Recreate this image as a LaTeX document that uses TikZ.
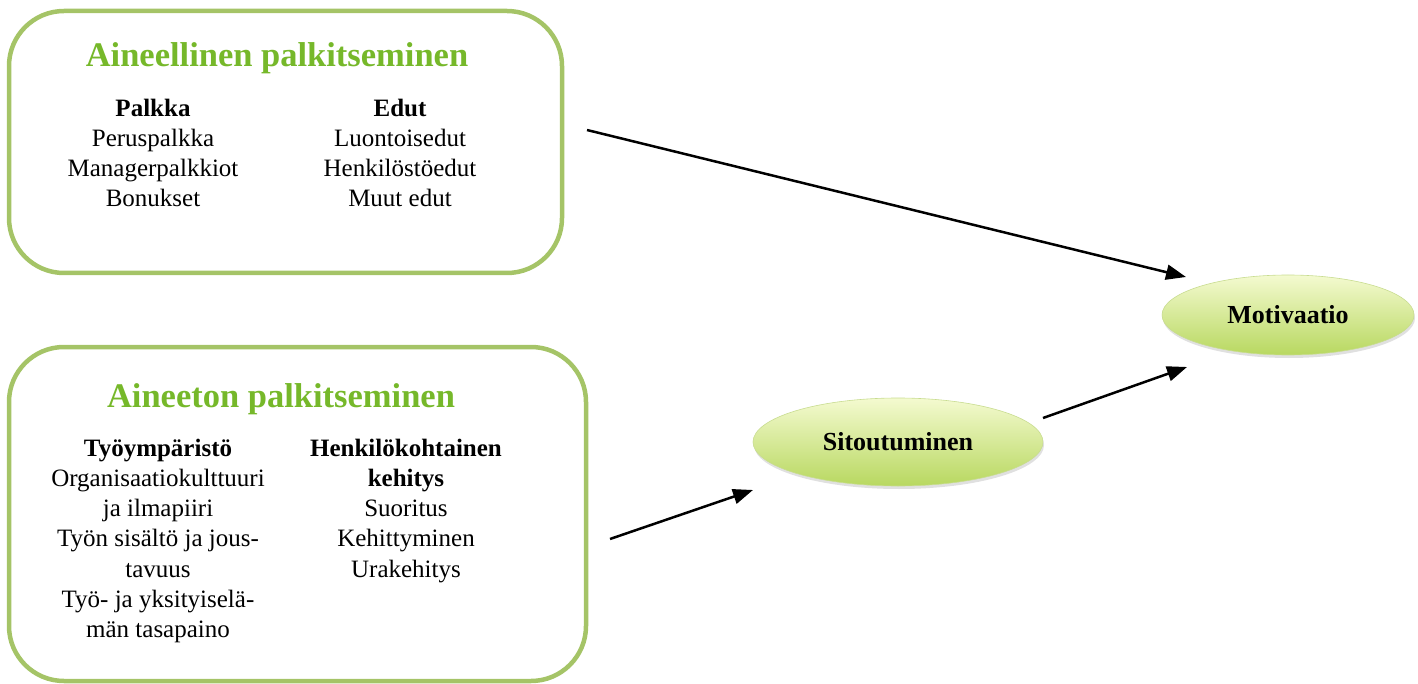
\documentclass[tikz,border=0pt]{standalone}
\usepackage{fontspec}
\setmainfont{Liberation Serif}
\usetikzlibrary{shapes.geometric,arrows.meta,shadows}
\definecolor{boxgreen}{HTML}{A5C467}
\definecolor{titlegreen}{HTML}{76B82A}
\definecolor{elltop}{HTML}{F4FAD0}
\definecolor{ellbot}{HTML}{B8D860}
\definecolor{elledge}{HTML}{C8DC90}
\tikzset{
  panel/.style={draw=boxgreen, line width=4.5pt, rounded corners=55pt},
  ttl/.style={font=\fontsize{34.5}{40}\selectfont\bfseries, text=titlegreen, anchor=base, inner sep=0pt},
  hd/.style={font=\fontsize{25}{30}\selectfont\bfseries, anchor=base, inner sep=0pt},
  body/.style={font=\fontsize{25}{30}\selectfont, anchor=base, inner sep=0pt},
  oval/.style={ellipse, top color=elltop, bottom color=ellbot, draw=elledge, line width=0.6pt,
     drop shadow={shadow xshift=1pt, shadow yshift=-3pt, opacity=0.2, fill=black!60},
     font=\fontsize{26}{30}\selectfont\bfseries, inner sep=0pt},
  arr/.style={-{Triangle[length=20pt,width=15pt]}, line width=2.5pt, black}
}
\begin{document}
\begin{tikzpicture}[x=1pt,y=-1pt]
\useasboundingbox (0,0) rectangle (1418,684);
% panels
\draw[panel] (9,11) rectangle (562,273);
\draw[panel] (9,347) rectangle (586,681);
% panel 1 text
\node[ttl] (t1) at (277,67) {Aineellinen palkitseminen};
\node[hd] (palkka) at (153,117) {Palkka};
\node[hd] (edut) at (400,117) {Edut};
\foreach \t [count=\i] in {Peruspalkka,Managerpalkkiot,Bonukset}
  \node[body] (pa\i) at (153,117+30*\i) {\t};
\foreach \t [count=\i] in {Luontoisedut,Henkilöstöedut,Muut edut}
  \node[body] (ed\i) at (400,117+30*\i) {\t};
% panel 2 text
\node[ttl] (t2) at (281,407) {Aineeton palkitseminen};
\node[hd] (tyo) at (158,456) {Työympäristö};
\node[hd] (hk1) at (406,456) {Henkilökohtainen};
\node[hd] (hk2) at (406,486.3) {kehitys};
\foreach \t [count=\i] in {Organisaatiokulttuuri,ja ilmapiiri,Työn sisältö ja jous-,tavuus,Työ- ja yksityiselä-,män tasapaino}
  \node[body] (ty\i) at (158,456+30.3*\i) {\t};
\foreach \t [count=\i] in {Suoritus,Kehittyminen,Urakehitys}
  \node[body] (hk\i x) at (406,486.3+30.3*\i) {\t};
% ellipses
\node[oval, minimum width=290pt, minimum height=88pt] (sit) at (898,442) {Sitoutuminen};
\node[oval, minimum width=252pt, minimum height=80pt] (mot) at (1288,315) {Motivaatio};
% arrow endpoints
\coordinate (a1s) at (587,130);
\coordinate (a1e) at (1186,277);
\coordinate (a2s) at (610,539);
\coordinate (a2e) at (753,490);
\coordinate (a3s) at (1043,418);
\coordinate (a3e) at (1187,367);
\draw[arr] (a1s) -- (a1e);
\draw[arr] (a2s) -- (a2e);
\draw[arr] (a3s) -- (a3e);
\end{tikzpicture}
\end{document}
